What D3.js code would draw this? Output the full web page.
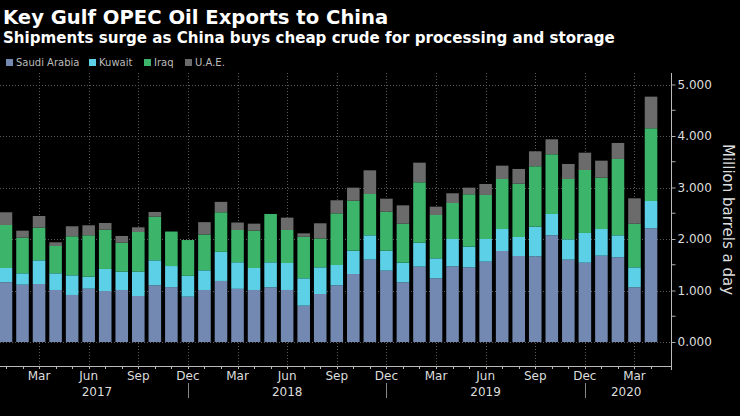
<!DOCTYPE html>
<html>
<head>
<meta charset="utf-8">
<script src="https://cdn.jsdelivr.net/npm/d3@7"></script>
<style>
	html, body { margin: 0; padding: 0; background: #000; }
	svg { display: block; font-family: 'DejaVu Sans', sans-serif; }
</style>
</head>
<body>
<svg id="chart" width="740" height="416"></svg>
<script>
// Monthly, Jan 2017 - Apr 2020 (thousand barrels a day)
const months = d3.range(40).map((i) => new Date(2017, i, 1));

const saudi = [
	1160, 1113, 1126, 1010, 913, 1035, 990, 1010, 893, 1101, 1065, 880,
	1010, 1185, 1032, 1010, 1062, 1010, 705, 932, 1101, 1320, 1599, 1385,
	1159, 1463, 1237, 1470, 1450, 1560, 1767, 1670, 1664, 2072, 1599, 1540,
	1676, 1645, 1062, 2208,
];
const kuwait = [
	277, 221, 460, 324, 382, 233, 428, 355, 472, 485, 410, 405,
	382, 566, 516, 427, 486, 524, 532, 518, 394, 453, 473, 388,
	381, 466, 388, 530, 401, 440, 427, 369, 575, 414, 394, 577,
	518, 427, 388, 530,
];
const iraq = [
	835, 692, 634, 530, 758, 804, 763, 563, 771, 847, 670, 695,
	695, 768, 627, 725, 938, 641, 808, 560, 1004, 971, 802, 758,
	757, 1172, 841, 699, 1017, 855, 971, 1035, 1173, 1159, 1172, 1223,
	997, 1482, 847, 1412,
];
const uae = [
	247, 136, 227, 72, 194, 194, 130, 131, 91, 92, 0, 0,
	240, 202, 145, 136, 0, 240, 65, 295, 253, 253, 460, 252,
	357, 381, 162, 189, 129, 213, 259, 286, 291, 291, 292, 336,
	330, 311, 493, 614,
];

const seriesNames = ['Saudi Arabia', 'Kuwait', 'Iraq', 'U.A.E.'];
const seriesColors = ['#7489b1', '#5cd0e6', '#3cb56a', '#6b6b6b'];
const yTicks = [0, 1000, 2000, 3000, 4000, 5000];
const yMinorTicks = [500, 1500, 2500, 3500, 4500];
const quarterMonths = [2, 5, 8, 11]; // Mar, Jun, Sep, Dec

const TITLE = 'Key Gulf OPEC Oil Exports to China';
const SUBTITLE = 'Shipments surge as China buys cheap crude for processing and storage';
const Y_LABEL = 'Million barrels a day';

const PLOT_TOP = 73;
const PLOT_BOTTOM = 366;
const AXIS_X = 671;

const svg = d3.select('svg[id=chart]');

const rows = months.map((m, i) => ({
	month: m,
	'Saudi Arabia': saudi[i],
	Kuwait: kuwait[i],
	Iraq: iraq[i],
	'U.A.E.': uae[i],
}));

const stacked = d3.stack().keys(seriesNames)(rows);

const x = d3
	.scaleBand()
	.domain(months)
	.range([-2.3, 659.3])
	.paddingInner(0.24)
	.paddingOuter(0.12);

const y = d3.scaleLinear().domain([0, 5000]).range([342, 84.5]);

const color = d3.scaleOrdinal().domain(seriesNames).range(seriesColors);

const cx = (m) => x(m) + x.bandwidth() / 2;

// Title + subtitle
svg.append('text')
	.attr('x', 3)
	.attr('y', 24)
	.attr('fill', '#fff')
	.attr('font-size', 19.6)
	.attr('font-weight', 'bold')
	.text(TITLE);

svg.append('text')
	.attr('x', 3)
	.attr('y', 43)
	.attr('fill', '#fff')
	.attr('font-size', 15.1)
	.attr('font-weight', 'bold')
	.text(SUBTITLE);

// Legend
const legendX = [6, 89, 144, 185];
const legend = svg
	.selectAll('.legend')
	.data(seriesNames)
	.join('g')
	.attr('class', 'legend')
	.attr('transform', (d, i) => `translate(${legendX[i]},59)`);

legend.append('rect')
	.attr('width', 7)
	.attr('height', 7)
	.attr('fill', (d) => color(d));

legend.append('text')
	.attr('x', 10)
	.attr('y', 7)
	.attr('fill', '#bbb')
	.attr('font-size', 10)
	.text((d) => d);

// Grid lines (dotted)
svg.append('g')
	.selectAll('line')
	.data(yTicks)
	.join('line')
	.attr('x1', 0)
	.attr('x2', AXIS_X)
	.attr('y1', (d) => Math.round(y(d)) + 0.5)
	.attr('y2', (d) => Math.round(y(d)) + 0.5)
	.attr('stroke', '#5a5a5a')
	.attr('stroke-dasharray', '1,2');

const quarterTicks = months.filter((m) => quarterMonths.includes(m.getMonth()));

svg.append('g')
	.selectAll('line')
	.data(quarterTicks)
	.join('line')
	.attr('x1', (d) => Math.round(cx(d)) + 0.5)
	.attr('x2', (d) => Math.round(cx(d)) + 0.5)
	.attr('y1', PLOT_TOP)
	.attr('y2', PLOT_BOTTOM)
	.attr('stroke', '#5a5a5a')
	.attr('stroke-dasharray', '1,2');

// Stacked bars
svg.append('g')
	.selectAll('g')
	.data(stacked)
	.join('g')
	.attr('fill', (s) => color(s.key))
	.selectAll('rect')
	.data((s) => s)
	.join('rect')
	.attr('x', (d) => x(d.data.month))
	.attr('width', x.bandwidth())
	.attr('y', (d) => y(d[1]))
	.attr('height', (d) => Math.max(0, y(d[0]) - y(d[1])));

// Right axis
const yAxis = d3
	.axisRight(y)
	.tickValues(yTicks)
	.tickSize(4)
	.tickPadding(2)
	.tickFormat((d) => (d / 1000).toFixed(3));

const yAxisG = svg
	.append('g')
	.attr('transform', `translate(${AXIS_X + 0.5},0)`)
	.call(yAxis);

yAxisG.select('.domain').remove();
yAxisG.selectAll('line').attr('stroke', '#aaa');
yAxisG.selectAll('text')
	.attr('fill', '#ddd')
	.attr('font-size', 12)
	.attr('font-family', 'DejaVu Sans, sans-serif');

yAxisG.selectAll('.minor')
	.data(yMinorTicks)
	.join('line')
	.attr('class', 'minor')
	.attr('x1', 0)
	.attr('x2', 4)
	.attr('y1', (d) => y(d))
	.attr('y2', (d) => y(d))
	.attr('stroke', '#aaa');

svg.append('line')
	.attr('x1', AXIS_X + 0.5)
	.attr('x2', AXIS_X + 0.5)
	.attr('y1', PLOT_TOP)
	.attr('y2', PLOT_BOTTOM + 4)
	.attr('stroke', '#bbb');

svg.append('text')
	.attr('transform', `translate(723,${(PLOT_TOP + PLOT_BOTTOM) / 2}) rotate(90)`)
	.attr('text-anchor', 'middle')
	.attr('fill', '#ddd')
	.attr('font-size', 15)
	.text(Y_LABEL);

// Bottom axis
svg.append('line')
	.attr('x1', 0)
	.attr('x2', AXIS_X + 0.5)
	.attr('y1', PLOT_BOTTOM + 0.5)
	.attr('y2', PLOT_BOTTOM + 0.5)
	.attr('stroke', '#bbb');

svg.append('g')
	.selectAll('line')
	.data(months)
	.join('line')
	.attr('x1', (d) => Math.round(cx(d)) + 0.5)
	.attr('x2', (d) => Math.round(cx(d)) + 0.5)
	.attr('y1', PLOT_BOTTOM)
	.attr('y2', PLOT_BOTTOM + 3)
	.attr('stroke', '#bbb');

svg.append('g')
	.selectAll('text')
	.data(quarterTicks)
	.join('text')
	.attr('x', (d) => cx(d))
	.attr('y', 380)
	.attr('text-anchor', 'middle')
	.attr('fill', '#ddd')
	.attr('font-size', 12)
	.text(d3.timeFormat('%b'));

// Year labels: edge years centred on their visible months, others under June
const years = d3.groups(months, (m) => m.getFullYear());
svg.append('g')
	.selectAll('text')
	.data(years)
	.join('text')
	.attr('x', ([yr, ms], i) => {
		if (i === 0 || i === years.length - 1) {
			return (cx(ms[0]) + cx(ms[ms.length - 1])) / 2;
		}
		return cx(ms[5]);
	})
	.attr('y', 396)
	.attr('text-anchor', 'middle')
	.attr('fill', '#ddd')
	.attr('font-size', 12)
	.text(([yr]) => yr);

// Year separators under each December
svg.append('g')
	.selectAll('line')
	.data(months.filter((m) => m.getMonth() === 11))
	.join('line')
	.attr('x1', (d) => Math.round(cx(d)) + 0.5)
	.attr('x2', (d) => Math.round(cx(d)) + 0.5)
	.attr('y1', 383)
	.attr('y2', 398)
	.attr('stroke', '#888');
</script>
</body>
</html>
